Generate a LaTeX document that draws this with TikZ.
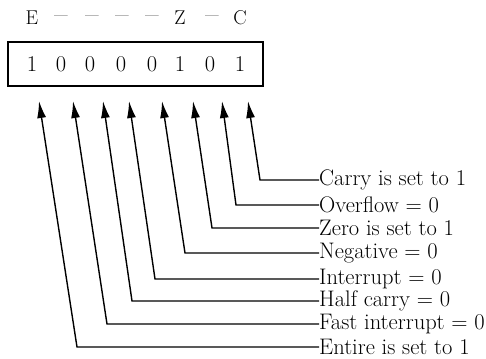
\documentclass[tikz,border=0pt]{standalone}
\usepackage{fontspec}
\setmainfont{Latin Modern Roman}
\usetikzlibrary{arrows.meta}
\begin{document}
\begin{tikzpicture}[x=1pt,y=-1pt,
  flag/.style={font=\fontsize{20}{22}\selectfont, inner sep=0pt},
  dashflag/.style={font=\fontsize{14}{16}\selectfont, inner sep=0pt},
  bit/.style={font=\fontsize{22.5}{26}\selectfont, inner sep=0pt},
  lab/.style={font=\fontsize{22.5}{26}\selectfont, inner sep=0pt, anchor=west},
  conn/.style={line width=1.4pt, {Latex[length=17pt,width=9pt]}-}]
\useasboundingbox (0,0) rectangle (486,358);
% flag letters
\node[flag] (fE) at (32,18) {E};
\node[dashflag] (f6) at (61,17.5) {\textemdash};
\node[dashflag] (f5) at (92,17.5) {\textemdash};
\node[dashflag] (f4) at (122,17.5) {\textemdash};
\node[dashflag] (f3) at (152,17.5) {\textemdash};
\node[flag] (fZ) at (180,18) {Z};
\node[dashflag] (f1) at (212,17.5) {\textemdash};
\node[flag] (fC) at (240,18) {C};
% register
\node[draw, line width=2pt, minimum width=255pt, minimum height=44pt, inner sep=0pt] (reg) at (135.5,64) {};
\node[bit] (b7) at (32,64) {1};
\node[bit] (b6) at (61,64) {0};
\node[bit] (b5) at (90,64) {0};
\node[bit] (b4) at (121,64) {0};
\node[bit] (b3) at (152,64) {0};
\node[bit] (b2) at (180,64) {1};
\node[bit] (b1) at (210,64) {0};
\node[bit] (b0) at (240,64) {1};
% arrow tips
\coordinate (t7) at (39,101);
\coordinate (t6) at (73,101);
\coordinate (t5) at (103,101);
\coordinate (t4) at (129,101);
\coordinate (t3) at (162,101);
\coordinate (t2) at (193,101);
\coordinate (t1) at (222,101);
\coordinate (t0) at (248,101);
% corners
\coordinate (c0) at (260,180);
\coordinate (c1) at (236,205);
\coordinate (c2) at (212,228);
\coordinate (c3) at (185,253);
\coordinate (c4) at (155,279);
\coordinate (c5) at (132,301);
\coordinate (c6) at (107,324);
\coordinate (c7) at (77,347);
% labels
\node[lab] (l0) at (319,180) {Carry is set to 1};
\node[lab] (l1) at (319,205) {Overflow = 0};
\node[lab] (l2) at (319,228) {Zero is set to 1};
\node[lab] (l3) at (319,253) {Negative = 0};
\node[lab] (l4) at (319,279) {Interrupt = 0};
\node[lab] (l5) at (319,301) {Half carry = 0};
\node[lab] (l6) at (319,324) {Fast interrupt = 0};
\node[lab] (l7) at (319,347) {Entire is set to 1};
% connectors
\foreach \i in {0,...,7}{
  \draw[conn] (t\i) -- (c\i) -- (l\i.west);
}
\end{tikzpicture}
\end{document}
